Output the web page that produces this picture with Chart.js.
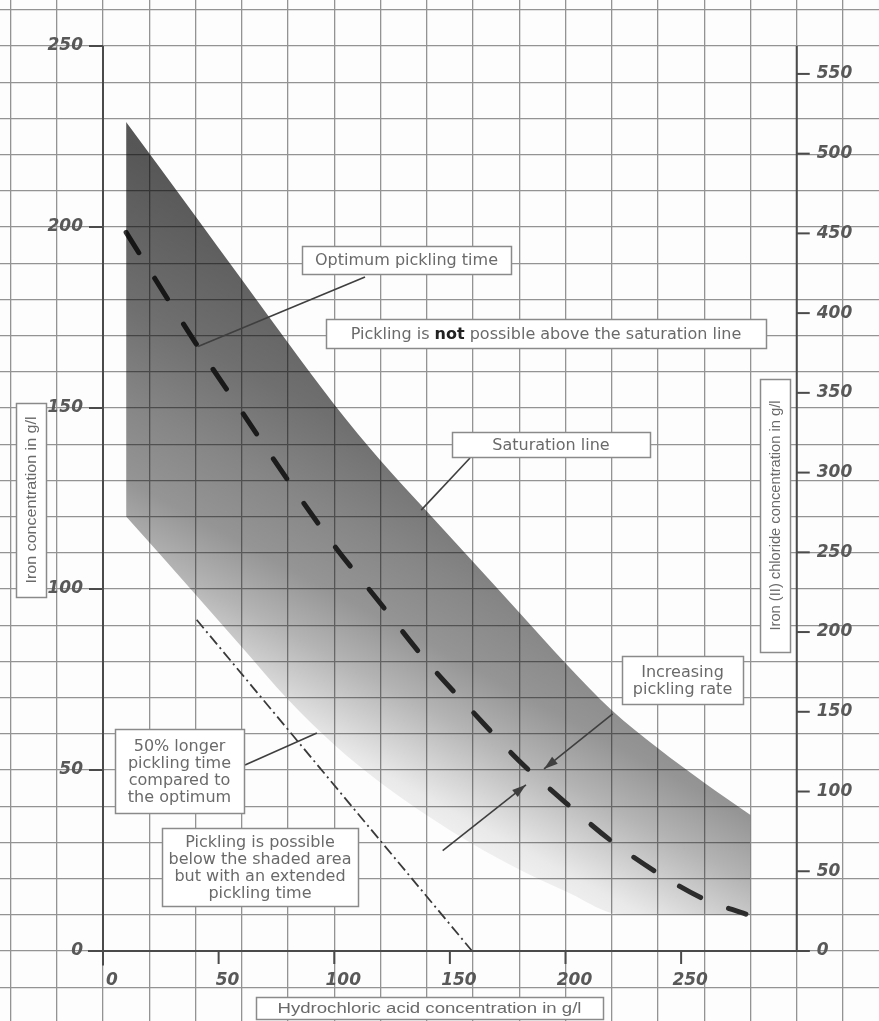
<!DOCTYPE html>
<html lang="en">
<head>
<meta charset="UTF-8">
<title>Pickling diagram</title>
<script src="https://cdn.jsdelivr.net/npm/chart.js@4"></script>
<style>
  html, body { margin: 0; padding: 0; background: #fdfdfd; }
  .wrap { position: relative; width: 879px; height: 1021px; }
</style>
</head>
<body>
<div class="wrap"><canvas id="chart"></canvas></div>
<script>
// ---- values (x = HCl g/l, y = Fe g/l) ----
const hclTicks = [0, 50, 100, 150, 200, 250];
const ironTicks = [0, 50, 100, 150, 200, 250];
const chlorideTicks = [0, 50, 100, 150, 200, 250, 300, 350, 400, 450, 500, 550];
const chloridePerIron = 2.27; // FeCl2 / Fe

// upper edge of the shaded band
const saturationX = [10, 40, 60, 80, 100, 120, 140, 160, 180, 200, 220, 240, 260, 280];
const saturationY = [229, 203, 185.5, 168, 151, 135.5, 121.5, 107.5, 93.5, 79.5, 66.5, 56, 46.5, 37.6];
// lower edge of the shaded band (50% longer pickling time)
const lowerX = [10, 40, 60, 80, 100, 120, 140, 160, 180, 200, 225, 280];
const lowerY = [120, 98.5, 84, 69.5, 57, 46.5, 37.5, 29.5, 22.5, 16.5, 10, 10];
// optimum pickling time (dashed)
const optimumX = [10, 40, 60, 80, 100, 120, 140, 160, 180, 200, 220, 240, 260, 278];
const optimumY = [198.5, 168, 149, 130, 112, 96, 80, 66, 52.5, 41, 30.3, 21.5, 14.3, 10.2];
// dash-dot line
const limitX = [40.5, 159.6];
const limitY = [91.5, 0];

const pts = (xs, ys) => xs.map((v, i) => ({ x: v, y: ys[i] }));

// leader lines / arrows, ends given in data units
const leaders = [
  { from: [113.3, 186.2], to: [41.1, 167] },
  { from: [158.7, 136.2], to: [137.6, 121.8] },
  { from: [61.4, 51.4], to: [92.5, 60.2] },
  { from: [220.4, 65.5], to: [190.7, 50.3], arrow: true },
  { from: [146.9, 27.7], to: [182.9, 45.9], arrow: true }
];

// text boxes [left, top, right, bottom] in pixels
const notes = [
  { box: [302, 246, 511, 274], lines: ['Optimum pickling time'] },
  { box: [326, 319, 766, 348], rich: [['Pickling is ', false], ['not', true], [' possible above the saturation line', false]] },
  { box: [452, 432, 650, 457], lines: ['Saturation line'] },
  { box: [622, 656, 743, 704], lines: ['Increasing', 'pickling rate'] },
  { box: [115, 729, 244, 813], lines: ['50% longer', 'pickling time', 'compared to', 'the optimum'] },
  { box: [162, 828, 358, 906], lines: ['Pickling is possible', 'below the shaded area', 'but with an extended', 'pickling time'] }
];
const titles = [
  { box: [256, 997, 603, 1019], text: 'Hydrochloric acid concentration in g/l', width: 304, rot: 0 },
  { box: [16, 403, 46, 597], text: 'Iron concentration in g/l', width: 167, rot: -Math.PI / 2 },
  { box: [760, 379, 790, 652], text: 'Iron (II) chloride concentration in g/l', width: 230, rot: -Math.PI / 2 }
];

function shade(ctx) {
  const chart = ctx.chart;
  const { x, y } = chart.scales;
  if (!chart.chartArea || !x || !y) return 'rgba(0,0,0,0.4)';
  const g = chart.ctx.createLinearGradient(
    x.getPixelForValue(215), y.getPixelForValue(152),
    x.getPixelForValue(98), y.getPixelForValue(14));
  g.addColorStop(0, 'rgba(0,0,0,0.66)');
  g.addColorStop(0.25, 'rgba(0,0,0,0.56)');
  g.addColorStop(0.4, 'rgba(0,0,0,0.47)');
  g.addColorStop(0.52, 'rgba(0,0,0,0.41)');
  g.addColorStop(0.62, 'rgba(0,0,0,0.29)');
  g.addColorStop(0.76, 'rgba(0,0,0,0.08)');
  g.addColorStop(0.88, 'rgba(0,0,0,0)');
  return g;
}

const stepTicks = (from, to, step) => {
  const out = [];
  for (let v = from; v <= to + 1e-9; v += step) out.push({ value: v });
  return out;
};

const paper = {
  id: 'paper',
  beforeDraw(chart) {
    const c = chart.ctx;
    c.save();
    c.fillStyle = '#fdfdfd';
    c.fillRect(0, 0, chart.width, chart.height);
    c.restore();
  },
  afterDatasetsDraw(chart) {
    const { ctx: c, scales: { x, y } } = chart;
    const px = v => x.getPixelForValue(v), py = v => y.getPixelForValue(v);
    const seg = (x1, y1, x2, y2) => { c.beginPath(); c.moveTo(x1, y1); c.lineTo(x2, y2); c.stroke(); };
    c.save();

    // leaders and arrows
    c.strokeStyle = '#3f3f3f';
    c.fillStyle = '#3f3f3f';
    c.lineWidth = 1.6;
    leaders.forEach(l => {
      const x1 = px(l.from[0]), y1 = py(l.from[1]), x2 = px(l.to[0]), y2 = py(l.to[1]);
      seg(x1, y1, x2, y2);
      if (l.arrow) {
        const a = Math.atan2(y2 - y1, x2 - x1), len = 14, w = 4.5;
        const bx = x2 - len * Math.cos(a), by = y2 - len * Math.sin(a);
        c.beginPath();
        c.moveTo(x2, y2);
        c.lineTo(bx + w * Math.sin(a), by - w * Math.cos(a));
        c.lineTo(bx - w * Math.sin(a), by + w * Math.cos(a));
        c.closePath();
        c.fill();
      }
    });

    // axes
    c.strokeStyle = '#4a4a4a';
    c.lineWidth = 2;
    seg(px(-6.5), py(0), px(305.5), py(0));
    seg(px(0), py(250), px(0), py(-4));
    seg(px(300), py(250), px(300), py(0));

    c.fillStyle = '#585858';
    c.font = 'italic bold 17px "DejaVu Sans"';
    c.textBaseline = 'middle';
    ironTicks.forEach(v => {
      seg(px(0) - 14, py(v), px(0), py(v));
      c.textAlign = 'right';
      c.fillText(String(v), px(0) - 20, py(v));
    });
    chlorideTicks.forEach(v => {
      const yy = py(v / chloridePerIron);
      seg(px(300), yy, px(300) + 13, yy);
      c.textAlign = 'left';
      c.fillText(String(v), px(300) + 20, yy);
    });
    hclTicks.forEach(v => {
      if (v !== 0) seg(px(v), py(0), px(v), py(0) + 13);
      c.textAlign = 'center';
      c.fillText(String(v), px(v) + 9, py(0) + 30);
    });
    c.restore();
  },
  afterDraw(chart) {
    const c = chart.ctx;
    c.save();
    const frame = b => {
      c.fillStyle = '#ffffff';
      c.fillRect(b[0], b[1], b[2] - b[0], b[3] - b[1]);
      c.strokeStyle = '#8a8a8a';
      c.lineWidth = 1.5;
      c.strokeRect(b[0] + 0.5, b[1] + 0.5, b[2] - b[0], b[3] - b[1]);
    };
    c.textBaseline = 'middle';
    notes.forEach(n => {
      frame(n.box);
      const cx = (n.box[0] + n.box[2]) / 2, cy = (n.box[1] + n.box[3]) / 2;
      c.fillStyle = '#6a6a6a';
      if (n.rich) {
        const fonts = n.rich.map(r => (r[1] ? 'bold ' : '') + '16px "DejaVu Sans"');
        const widths = n.rich.map((r, i) => { c.font = fonts[i]; return c.measureText(r[0]).width; });
        let xx = cx - widths.reduce((a, b) => a + b, 0) / 2;
        c.textAlign = 'left';
        n.rich.forEach((r, i) => {
          c.font = fonts[i];
          c.fillStyle = r[1] ? '#222' : '#6a6a6a';
          c.fillText(r[0], xx, cy + 1);
          xx += widths[i];
        });
      } else {
        c.font = '16px "DejaVu Sans"';
        c.textAlign = 'center';
        const lh = 17;
        n.lines.forEach((t, i) => c.fillText(t, cx, cy + 1 + (i - (n.lines.length - 1) / 2) * lh));
      }
    });
    titles.forEach(t => {
      frame(t.box);
      const cx = (t.box[0] + t.box[2]) / 2, cy = (t.box[1] + t.box[3]) / 2;
      c.save();
      c.translate(cx, cy);
      c.rotate(t.rot);
      c.font = '15px "Liberation Sans"';
      const sx = t.width / c.measureText(t.text).width;
      c.scale(sx, 1);
      c.fillStyle = '#6a6a6a';
      c.textAlign = 'center';
      c.fillText(t.text, 0, 1);
      c.restore();
    });
    c.restore();
  }
};

new Chart(document.getElementById('chart'), {
  type: 'scatter',
  data: {
    datasets: [
      {
        label: 'Saturation line',
        data: pts(saturationX, saturationY),
        showLine: true,
        borderColor: 'transparent',
        borderWidth: 0,
        pointRadius: 0,
        cubicInterpolationMode: 'monotone',
        fill: '+1',
        backgroundColor: shade
      },
      {
        label: '50% longer pickling time',
        data: pts(lowerX, lowerY),
        showLine: true,
        borderColor: 'transparent',
        borderWidth: 0,
        pointRadius: 0,
        cubicInterpolationMode: 'monotone',
        fill: false
      },
      {
        label: 'Optimum pickling time',
        data: pts(optimumX, optimumY),
        showLine: true,
        borderColor: '#363636',
        borderWidth: 5,
        borderDash: [24, 30],
        borderCapStyle: 'round',
        pointRadius: 0,
        cubicInterpolationMode: 'monotone',
        fill: false
      },
      {
        label: 'Limit',
        data: pts(limitX, limitY),
        showLine: true,
        borderColor: '#3a3a3a',
        borderWidth: 1.8,
        borderDash: [11, 4, 2, 4],
        pointRadius: 0,
        fill: false
      }
    ]
  },
  options: {
    responsive: true,
    maintainAspectRatio: false,
    animation: false,
    layout: { padding: 0 },
    plugins: { legend: { display: false }, tooltip: { enabled: false } },
    scales: {
      x: {
        type: 'linear', min: -44.54, max: 335.57,
        border: { display: false },
        grid: { color: '#939393', lineWidth: 1.3, drawTicks: false },
        ticks: { display: false },
        afterBuildTicks: s => { s.ticks = stepTicks(-40, 320, 20); },
        afterFit: s => { s.height = 0; }
      },
      y: {
        type: 'linear', min: -19.34, max: 262.71,
        border: { display: false },
        grid: { color: '#939393', lineWidth: 1.3, drawTicks: false },
        ticks: { display: false },
        afterBuildTicks: s => { s.ticks = stepTicks(-10, 260, 10); },
        afterFit: s => { s.width = 0; }
      }
    }
  },
  plugins: [paper]
});
</script>
</body>
</html>
